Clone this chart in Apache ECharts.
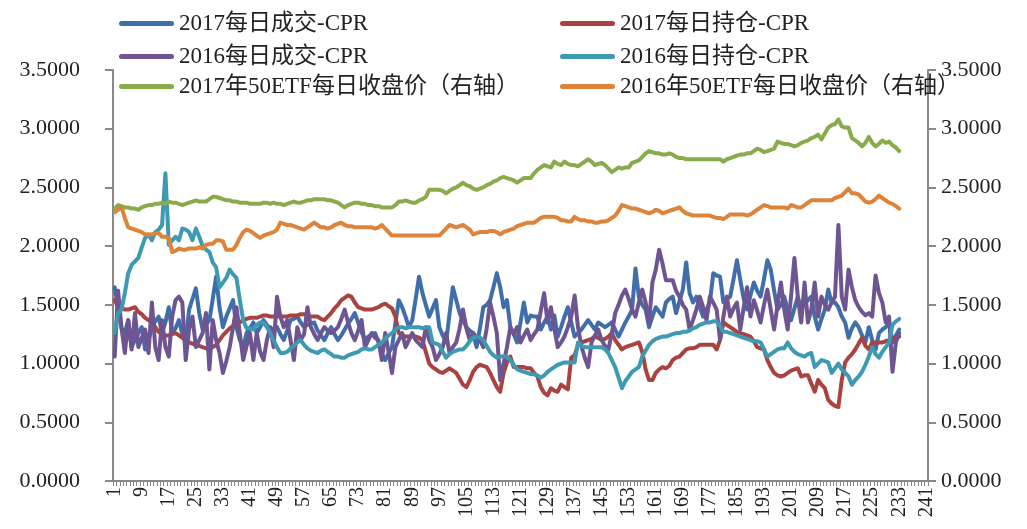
<!DOCTYPE html>
<html>
<head>
<meta charset="utf-8">
<script src="https://cdn.jsdelivr.net/npm/echarts@6/dist/echarts.min.js"></script>
<style>
  html, body { margin: 0; padding: 0; background: #fff; }
  #chart { width: 1027px; height: 529px; }
</style>
</head>
<body>
<div id="chart"></div>
<script>
// x axis: trading day number 1..241
const categories = Array.from({ length: 241 }, (_, i) => String(i + 1));

const seriesNames = [
  "2017每日成交-CPR",
  "2017每日持仓-CPR",
  "2016每日成交-CPR",
  "2016每日持仓-CPR",
  "2017年50ETF每日收盘价（右轴）",
  "2016年50ETF每日收盘价（右轴）",
];

const cpr2017Volume = [
  1.65, 1.48, 1.30, 1.26, 1.37, 1.14, 1.20, 1.26, 1.31, 1.12,
  1.20, 1.31, 1.36, 1.40, 1.26, 1.35, 1.48, 1.26, 1.30, 1.37,
  1.25, 1.18, 1.46, 1.55, 1.64, 1.43, 1.29, 1.33, 1.37, 1.55,
  1.74, 1.48, 1.31, 1.40, 1.47, 1.54, 1.31, 1.20, 1.14, 1.26,
  1.30, 1.35, 1.26, 1.31, 1.37, 1.33, 1.29, 1.30, 1.31, 1.25,
  1.20, 1.28, 1.37, 1.38, 1.40, 1.35, 1.31, 1.33, 1.34, 1.35,
  1.28, 1.24, 1.20, 1.26, 1.31, 1.25, 1.20, 1.24, 1.29, 1.34,
  1.38, 1.43, 1.35, 1.27, 1.20, 1.23, 1.25, 1.26, 1.18, 1.08,
  1.03, 1.09, 1.14, 1.34, 1.54, 1.48, 1.40, 1.31, 1.37, 1.55,
  1.74, 1.60, 1.50, 1.40, 1.47, 1.54, 1.31, 1.24, 1.18, 1.42,
  1.65, 1.54, 1.43, 1.37, 1.31, 1.28, 1.26, 1.14, 1.30, 1.48,
  1.50, 1.54, 1.65, 1.77, 1.65, 1.48, 1.54, 1.31, 1.25, 1.18,
  1.35, 1.52, 1.35, 1.41, 1.40, 1.40, 1.29, 1.35, 1.40, 1.29,
  1.41, 1.23, 1.31, 1.40, 1.48, 1.35, 1.23, 1.26, 1.29, 1.33,
  1.37, 1.33, 1.29, 1.35, 1.33, 1.31, 1.33, 1.35, 1.29, 1.23,
  1.29, 1.35, 1.40, 1.46, 1.81, 1.57, 1.50, 1.46, 1.31, 1.40,
  1.48, 1.44, 1.40, 1.52, 1.55, 1.57, 1.43, 1.53, 1.63, 1.86,
  1.60, 1.52, 1.57, 1.48, 1.40, 1.46, 1.52, 1.77, 1.75, 1.74,
  1.52, 1.55, 1.57, 1.72, 1.88, 1.71, 1.55, 1.46, 1.58, 1.69,
  1.62, 1.57, 1.72, 1.88, 1.80, 1.62, 1.46, 1.50, 1.57, 1.46,
  1.37, 1.47, 1.57, 1.46, 1.51, 1.54, 1.57, 1.40, 1.29, 1.38,
  1.46, 1.63, 1.52, 1.52, 1.48, 1.40, 1.35, 1.22, 1.30, 1.35,
  1.31, 1.24, 1.18, 1.31, 1.20, 1.12, 1.26, 1.29, 1.31, 1.35,
  1.18, 1.24, 1.29,
];

const cpr2017OI = [
  1.54, 1.48, 1.47, 1.46, 1.46, 1.47, 1.48, 1.44, 1.42, 1.39,
  1.37, 1.35, 1.31, 1.27, 1.25, 1.24, 1.24, 1.25, 1.26, 1.24,
  1.22, 1.20, 1.18, 1.17, 1.16, 1.15, 1.14, 1.13, 1.13, 1.14,
  1.16, 1.20, 1.24, 1.27, 1.30, 1.32, 1.33, 1.35, 1.37, 1.38,
  1.39, 1.39, 1.39, 1.40, 1.41, 1.41, 1.40, 1.40, 1.40, 1.40,
  1.40, 1.40, 1.41, 1.41, 1.41, 1.42, 1.42, 1.41, 1.40, 1.40,
  1.40, 1.38, 1.37, 1.40, 1.43, 1.47, 1.50, 1.54, 1.56, 1.58,
  1.57, 1.52, 1.48, 1.47, 1.46, 1.46, 1.46, 1.47, 1.48, 1.50,
  1.51, 1.49, 1.47, 1.40, 1.26, 1.24, 1.23, 1.23, 1.23, 1.23,
  1.22, 1.20, 1.10, 1.00, 0.97, 0.95, 0.93, 0.92, 0.94, 0.96,
  0.94, 0.92, 0.87, 0.82, 0.80, 0.86, 0.93, 0.97, 0.99, 0.98,
  0.97, 0.92, 0.86, 0.80, 0.76, 0.92, 1.01, 1.06, 0.97, 0.97,
  0.97, 0.97, 0.96, 0.96, 0.92, 0.89, 0.80, 0.75, 0.73, 0.79,
  0.77, 0.76, 0.82, 0.80, 0.78, 1.05, 1.07, 1.16, 1.18, 1.19,
  1.20, 1.21, 1.23, 1.22, 1.20, 1.21, 1.23, 1.26, 1.20, 1.16,
  1.12, 1.14, 1.15, 1.16, 1.17, 1.18, 1.10, 0.95, 0.86, 0.86,
  0.92, 0.95, 0.97, 0.96, 0.98, 1.03, 1.05, 1.06, 1.09, 1.12,
  1.13, 1.13, 1.14, 1.16, 1.16, 1.16, 1.16, 1.16, 1.12, 1.20,
  1.35, 1.33, 1.31, 1.29, 1.27, 1.26, 1.25, 1.24, 1.23, 1.19,
  1.14, 1.13, 1.12, 1.03, 0.97, 0.92, 0.90, 0.89, 0.90, 0.92,
  0.94, 0.95, 0.96, 0.89, 0.90, 0.90, 0.83, 0.76, 0.86, 0.82,
  0.79, 0.69, 0.66, 0.64, 0.63, 0.86, 1.01, 1.05, 1.08, 1.12,
  1.17, 1.22, 1.15, 1.12, 1.18, 1.18, 1.18, 1.18, 1.19, 1.20,
  1.21, 1.22, 1.23,
];

const cpr2016Volume = [
  1.06, 1.62, 1.31, 1.09, 1.37, 1.12, 1.43, 1.14, 1.22, 1.29,
  1.09, 1.52, 1.14, 1.03, 1.37, 1.14, 1.06, 1.40, 1.54, 1.57,
  1.52, 1.03, 1.29, 1.40, 1.14, 1.20, 1.26, 1.43, 0.95, 1.37,
  1.20, 1.09, 0.92, 1.02, 1.14, 1.31, 1.48, 1.26, 1.03, 1.15,
  1.26, 1.03, 1.26, 1.10, 1.03, 1.20, 1.31, 1.14, 1.57, 1.40,
  1.31, 1.37, 1.20, 1.03, 1.31, 1.20, 1.25, 1.48, 1.31, 1.25,
  1.20, 1.26, 1.31, 1.28, 1.26, 1.28, 1.31, 1.38, 1.46, 1.35,
  1.26, 1.20, 1.28, 1.37, 1.14, 1.20, 1.26, 1.22, 1.20, 1.03,
  1.26, 1.10, 0.92, 1.14, 1.20, 1.26, 1.14, 1.20, 1.26, 1.20,
  1.17, 1.14, 1.31, 1.20, 1.14, 1.03, 1.08, 1.14, 1.26, 1.09,
  1.14, 1.18, 1.30, 1.46, 1.30, 1.20, 1.26, 1.22, 1.20, 1.14,
  1.30, 1.52, 1.40, 1.26, 0.86, 1.00, 1.14, 1.31, 1.25, 1.31,
  1.18, 1.24, 1.29, 1.20, 1.25, 1.29, 1.45, 1.60, 1.35, 1.48,
  1.30, 1.14, 1.18, 1.23, 1.31, 1.40, 1.58, 1.31, 1.15, 1.05,
  0.97, 1.18, 1.24, 1.29, 1.20, 1.15, 1.12, 1.26, 1.43, 1.50,
  1.58, 1.63, 1.55, 1.46, 1.40, 1.52, 1.63, 1.52, 1.35, 1.69,
  1.80, 1.97, 1.85, 1.71, 1.71, 1.71, 1.62, 1.57, 1.50, 1.46,
  1.29, 1.37, 1.46, 1.57, 1.48, 1.37, 1.57, 1.52, 1.46, 1.20,
  1.40, 1.57, 1.40, 1.47, 1.52, 1.29, 1.48, 1.65, 1.40, 1.54,
  1.45, 1.35, 1.50, 1.63, 1.46, 1.29, 1.50, 1.69, 1.46, 1.29,
  1.57, 1.90, 1.57, 1.35, 1.69, 1.35, 1.46, 1.69, 1.40, 1.57,
  1.50, 1.46, 1.52, 1.57, 2.18, 1.57, 1.46, 1.80, 1.65, 1.54,
  1.48, 1.44, 1.41, 1.43, 1.40, 1.75, 1.60, 1.52, 1.35, 1.40,
  0.93, 1.18, 1.26,
];

const cpr2016OI = [
  1.26, 1.43, 1.46, 1.60, 1.77, 1.84, 1.87, 1.90, 1.99, 2.07,
  2.10, 2.05, 2.12, 2.14, 2.18, 2.62, 2.01, 2.05, 2.08, 2.05,
  2.15, 2.14, 2.12, 2.05, 2.15, 2.08, 2.00, 1.97, 1.95, 1.86,
  1.82, 1.65, 1.69, 1.73, 1.80, 1.76, 1.73, 1.54, 1.37, 1.30,
  1.30, 1.29, 1.33, 1.35, 1.35, 1.31, 1.26, 1.20, 1.14, 1.09,
  1.09, 1.10, 1.13, 1.15, 1.18, 1.20, 1.16, 1.13, 1.11, 1.10,
  1.09, 1.11, 1.12, 1.10, 1.08, 1.06, 1.06, 1.05, 1.05, 1.07,
  1.08, 1.09, 1.10, 1.12, 1.13, 1.12, 1.12, 1.14, 1.16, 1.18,
  1.21, 1.24, 1.26, 1.29, 1.31, 1.31, 1.30, 1.31, 1.31, 1.31,
  1.31, 1.30, 1.31, 1.31, 1.18, 1.17, 1.16, 1.10, 1.05, 1.08,
  1.10, 1.11, 1.12, 1.12, 1.15, 1.19, 1.22, 1.23, 1.22, 1.20,
  1.15, 1.10, 1.07, 1.05, 1.06, 1.06, 1.06, 1.03, 0.99, 0.95,
  0.94, 0.93, 0.92, 0.91, 0.91, 0.90, 0.88, 0.90, 0.93, 0.95,
  0.97, 0.99, 1.00, 1.01, 1.01, 1.01, 1.01, 1.18, 1.15, 1.14,
  1.14, 1.14, 1.14, 1.14, 1.14, 1.12, 1.09, 1.03, 0.97, 0.88,
  0.79, 0.85, 0.89, 0.93, 0.95, 0.97, 1.06, 1.11, 1.16, 1.19,
  1.21, 1.22, 1.23, 1.23, 1.24, 1.25, 1.26, 1.26, 1.27, 1.27,
  1.28, 1.30, 1.31, 1.33, 1.34, 1.35, 1.35, 1.36, 1.36, 1.32,
  1.27, 1.27, 1.26, 1.25, 1.24, 1.23, 1.22, 1.21, 1.20, 1.19,
  1.19, 1.18, 1.12, 1.06, 1.08, 1.10, 1.12, 1.13, 1.13, 1.18,
  1.13, 1.10, 1.08, 1.07, 1.06, 1.08, 1.09, 0.97, 1.00, 1.03,
  1.02, 1.01, 0.92, 0.96, 1.00, 0.95, 0.92, 0.89, 0.82, 0.86,
  0.89, 0.93, 0.99, 1.06, 1.14, 1.08, 1.05, 1.10, 1.14, 1.18,
  1.33, 1.36, 1.38,
];

const etf2017Close = [
  2.32, 2.35, 2.34, 2.33, 2.33, 2.32, 2.32, 2.31, 2.33, 2.34,
  2.35, 2.35, 2.36, 2.36, 2.37, 2.36, 2.38, 2.37, 2.37, 2.36,
  2.35, 2.36, 2.37, 2.38, 2.39, 2.38, 2.38, 2.38, 2.40, 2.42,
  2.42, 2.41, 2.40, 2.39, 2.39, 2.38, 2.38, 2.37, 2.37, 2.37,
  2.36, 2.36, 2.36, 2.36, 2.37, 2.37, 2.36, 2.37, 2.36, 2.36,
  2.35, 2.36, 2.37, 2.38, 2.37, 2.37, 2.38, 2.39, 2.39, 2.40,
  2.40, 2.40, 2.40, 2.39, 2.39, 2.38, 2.37, 2.35, 2.33, 2.35,
  2.36, 2.37, 2.37, 2.36, 2.36, 2.35, 2.35, 2.34, 2.34, 2.33,
  2.33, 2.33, 2.33, 2.35, 2.38, 2.38, 2.39, 2.38, 2.37, 2.37,
  2.39, 2.40, 2.42, 2.48, 2.48, 2.48, 2.48, 2.47, 2.45, 2.47,
  2.49, 2.50, 2.52, 2.54, 2.52, 2.51, 2.49, 2.48, 2.49, 2.50,
  2.52, 2.53, 2.55, 2.56, 2.58, 2.59, 2.58, 2.57, 2.56, 2.54,
  2.56, 2.58, 2.58, 2.58, 2.62, 2.65, 2.67, 2.69, 2.68, 2.67,
  2.72, 2.70, 2.69, 2.72, 2.70, 2.69, 2.69, 2.68, 2.70, 2.72,
  2.74, 2.72, 2.69, 2.70, 2.71, 2.69, 2.66, 2.63, 2.65, 2.67,
  2.66, 2.67, 2.67, 2.71, 2.72, 2.73, 2.76, 2.79, 2.81, 2.80,
  2.79, 2.79, 2.78, 2.78, 2.79, 2.78, 2.76, 2.75, 2.75, 2.74,
  2.74, 2.74, 2.74, 2.74, 2.74, 2.74, 2.74, 2.74, 2.74, 2.74,
  2.72, 2.74, 2.75, 2.76, 2.77, 2.78, 2.78, 2.79, 2.79, 2.81,
  2.83, 2.82, 2.80, 2.81, 2.82, 2.83, 2.89, 2.88, 2.87, 2.87,
  2.86, 2.85, 2.86, 2.88, 2.89, 2.90, 2.92, 2.93, 2.95, 2.91,
  2.96, 3.01, 3.03, 3.04, 3.08, 3.02, 3.01, 3.01, 2.92, 2.90,
  2.88, 2.85, 2.88, 2.93, 2.88, 2.85, 2.87, 2.90, 2.88, 2.89,
  2.86, 2.84, 2.81,
];

const etf2016Close = [
  2.29, 2.31, 2.33, 2.24, 2.16, 2.15, 2.14, 2.13, 2.12, 2.10,
  2.10, 2.10, 2.11, 2.11, 2.08, 2.08, 2.07, 1.95, 1.96, 1.98,
  1.97, 1.97, 1.98, 1.98, 1.98, 1.99, 1.98, 2.01, 2.02, 2.02,
  2.05, 2.05, 2.04, 1.97, 1.97, 1.97, 2.01, 2.07, 2.12, 2.14,
  2.13, 2.11, 2.09, 2.07, 2.09, 2.10, 2.11, 2.12, 2.14, 2.20,
  2.19, 2.18, 2.18, 2.17, 2.16, 2.15, 2.14, 2.16, 2.18, 2.20,
  2.18, 2.16, 2.16, 2.15, 2.16, 2.18, 2.19, 2.20, 2.18, 2.17,
  2.17, 2.16, 2.16, 2.16, 2.16, 2.16, 2.16, 2.15, 2.16, 2.18,
  2.15, 2.12, 2.09, 2.09, 2.09, 2.09, 2.09, 2.09, 2.09, 2.09,
  2.09, 2.09, 2.09, 2.09, 2.09, 2.09, 2.09, 2.12, 2.15, 2.18,
  2.17, 2.16, 2.17, 2.18, 2.16, 2.14, 2.10, 2.11, 2.12, 2.12,
  2.12, 2.13, 2.13, 2.12, 2.10, 2.12, 2.13, 2.14, 2.15, 2.17,
  2.18, 2.19, 2.20, 2.20, 2.20, 2.22, 2.24, 2.25, 2.25, 2.25,
  2.25, 2.24, 2.22, 2.22, 2.21, 2.21, 2.25, 2.23, 2.22, 2.22,
  2.21, 2.21, 2.20, 2.20, 2.21, 2.21, 2.22, 2.24, 2.26, 2.30,
  2.35, 2.34, 2.33, 2.32, 2.32, 2.31, 2.30, 2.29, 2.28, 2.29,
  2.31, 2.30, 2.28, 2.29, 2.30, 2.31, 2.32, 2.33, 2.30, 2.28,
  2.27, 2.26, 2.26, 2.26, 2.26, 2.26, 2.26, 2.25, 2.24, 2.24,
  2.23, 2.25, 2.27, 2.27, 2.27, 2.27, 2.27, 2.26, 2.27, 2.29,
  2.31, 2.33, 2.35, 2.34, 2.33, 2.33, 2.33, 2.33, 2.33, 2.32,
  2.35, 2.34, 2.33, 2.33, 2.35, 2.37, 2.39, 2.39, 2.39, 2.39,
  2.39, 2.39, 2.39, 2.41, 2.42, 2.43, 2.46, 2.49, 2.45, 2.45,
  2.44, 2.41, 2.38, 2.37, 2.38, 2.40, 2.43, 2.41, 2.39, 2.37,
  2.36, 2.34, 2.32,
];

const seriesData = [cpr2017Volume, cpr2017OI, cpr2016Volume, cpr2016OI, etf2017Close, etf2016Close];
const colors = ["#3f6eaa", "#aa4340", "#6e5491", "#3e9ab2", "#8aab4b", "#dd833a"];

const FONT = "'Liberation Serif', 'Noto Sans CJK SC', serif";
const AXIS_GREY = "#898989";

// legend laid out as 3 rows x 2 columns
const legendCols = [119, 560];
const legendRows = [12, 45, 75];
const capsule = "path://M2.5,0 L52.5,0 A2.5,2.5 0 0 1 52.5,5 L2.5,5 A2.5,2.5 0 0 1 2.5,0 Z";

const legends = seriesNames.map((name, i) => ({
  data: [name],
  left: legendCols[i % 2],
  top: legendRows[Math.floor(i / 2)],
  padding: 0,
  icon: capsule,
  itemWidth: 55,
  itemHeight: 5,
  textStyle: { fontFamily: FONT, fontSize: 23, color: "#222" },
}));

function yAxis(position, margin) {
  return {
    type: "value",
    position: position,
    min: 0,
    max: 3.5,
    interval: 0.5,
    axisLine: { show: true, lineStyle: { color: AXIS_GREY, width: 2 } },
    axisTick: { show: true, length: 8, lineStyle: { color: AXIS_GREY, width: 2 } },
    splitLine: { show: false },
    axisLabel: {
      margin: margin,
      fontFamily: FONT,
      fontSize: 22,
      color: "#222",
      formatter: (v) => v.toFixed(4),
    },
  };
}

const chart = echarts.init(document.getElementById("chart"), null, { renderer: "canvas" });

chart.setOption({
  animation: false,
  backgroundColor: "#fff",
  legend: legends,
  grid: { left: 113, right: 99, top: 70, bottom: 48, containLabel: false },
  xAxis: {
    type: "category",
    data: categories,
    boundaryGap: true,
    axisLine: { lineStyle: { color: AXIS_GREY, width: 2 } },
    axisTick: { show: true, interval: 0, length: 5, lineStyle: { color: AXIS_GREY, width: 1 } },
    axisLabel: {
      interval: 7,
      rotate: 90,
      margin: 6,
      fontFamily: FONT,
      fontSize: 20,
      color: "#222",
    },
    splitLine: { show: false },
  },
  yAxis: [yAxis("left", 33), yAxis("right", 13)],
  series: seriesNames.map((name, i) => ({
    name: name,
    type: "line",
    yAxisIndex: i >= 4 ? 1 : 0,
    data: seriesData[i],
    color: colors[i],
    symbol: "none",
    smooth: false,
    lineStyle: { width: 4, color: colors[i], cap: "round", join: "round" },
  })),
});
</script>
</body>
</html>
